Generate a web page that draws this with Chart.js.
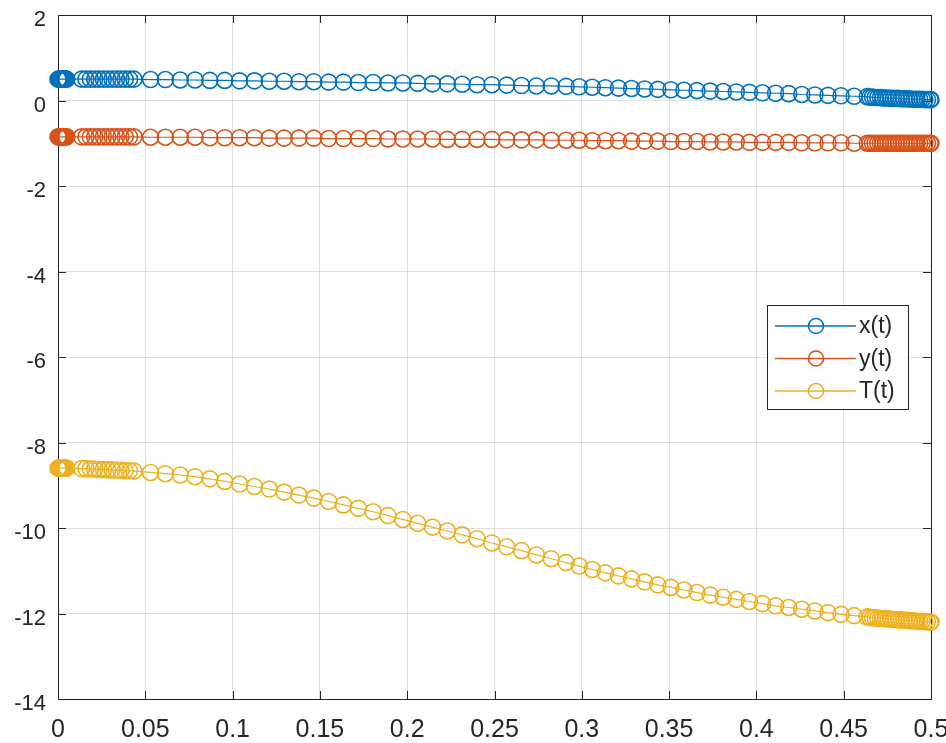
<!DOCTYPE html>
<html><head><meta charset="utf-8">
<script src="https://cdn.jsdelivr.net/npm/chart.js@4/dist/chart.umd.min.js"></script>
<style>html,body{margin:0;padding:0;background:#fff;}#wrap{width:946px;height:743px;}</style>
</head><body><div id="wrap"><canvas id="c" width="946" height="743"></canvas></div>
<script>
// time samples (solver output, dense at start and end)
const t = [
 0,0.0005,0.001,0.0015,0.002,0.0025,0.003,0.0035,0.004,0.0045,0.005,
 0.0135,0.016,0.0185,0.021,0.0235,0.026,0.0285,0.031,0.0335,0.036,0.0385,0.041,0.0435,
 0.053,0.0615,0.070,0.0785,0.087,0.0955,0.104,0.1125,0.121,0.1295,0.138,0.1465,0.155,0.1635,0.172,0.1805,0.189,0.1975,0.206,0.2145,0.223,0.2315,0.240,0.2485,0.257,0.2655,0.274,0.2825,0.291,
 0.2985,0.306,0.3135,0.321,0.3285,0.336,0.3435,0.351,0.3585,0.366,0.3735,0.381,0.3885,0.396,0.4035,0.411,0.4185,0.426,0.4335,0.441,0.4485,0.456,0.4635,
 0.465,0.4665,0.468,0.4695,0.471,0.4725,0.474,0.4755,0.477,0.4785,0.48,0.4815,0.483,0.4845,0.486,0.4875,0.489,0.4905,0.492,0.4935,0.495,0.4965,0.498,0.4995,0.5
];
const xt = [
 0.50,0.50,0.50,0.50,0.50,0.50,0.50,0.50,0.50,0.50,0.50,
 0.50,0.50,0.50,0.50,0.50,0.50,0.50,0.50,0.50,0.50,0.50,0.50,0.50,
 0.49,0.49,0.48,0.48,0.47,0.47,0.46,0.46,0.45,0.45,0.44,0.44,0.43,0.43,0.42,0.42,0.41,0.41,0.40,0.39,0.39,0.38,0.37,0.37,0.36,0.35,0.34,0.34,0.33,
 0.32,0.31,0.30,0.29,0.28,0.27,0.26,0.25,0.24,0.23,0.22,0.21,0.20,0.19,0.18,0.17,0.16,0.14,0.13,0.12,0.11,0.10,0.09,
 0.08,0.08,0.07,0.07,0.07,0.06,0.06,0.06,0.05,0.05,0.05,0.05,0.04,0.04,0.04,0.04,0.03,0.03,0.03,0.03,0.03,0.02,0.02,0.02,0.02
];
const yt = [
 -0.85,-0.85,-0.85,-0.85,-0.85,-0.85,-0.85,-0.85,-0.85,-0.85,-0.85,
 -0.85,-0.85,-0.85,-0.85,-0.85,-0.85,-0.85,-0.85,-0.85,-0.85,-0.85,-0.85,-0.85,
 -0.86,-0.86,-0.86,-0.86,-0.87,-0.87,-0.87,-0.87,-0.88,-0.88,-0.88,-0.88,-0.89,-0.89,-0.89,-0.89,-0.90,-0.90,-0.90,-0.90,-0.91,-0.91,-0.91,-0.91,-0.92,-0.92,-0.92,-0.93,-0.93,
 -0.93,-0.94,-0.94,-0.94,-0.95,-0.95,-0.95,-0.96,-0.96,-0.96,-0.97,-0.97,-0.97,-0.98,-0.98,-0.98,-0.98,-0.99,-0.99,-0.99,-0.99,-1.00,-1.00,
 -1.00,-1.00,-1.00,-1.00,-1.00,-1.00,-1.00,-1.00,-1.00,-1.00,-1.00,-1.00,-1.00,-1.00,-1.00,-1.00,-1.00,-1.00,-1.00,-1.00,-1.00,-1.00,-1.00,-1.00,-1.00
];
const Tt = [
 -8.60,-8.60,-8.60,-8.60,-8.60,-8.60,-8.60,-8.60,-8.60,-8.60,-8.60,
 -8.61,-8.61,-8.62,-8.62,-8.63,-8.63,-8.64,-8.64,-8.65,-8.65,-8.66,-8.66,-8.67,
 -8.70,-8.73,-8.76,-8.80,-8.85,-8.91,-8.97,-9.03,-9.09,-9.16,-9.23,-9.30,-9.38,-9.46,-9.54,-9.62,-9.71,-9.80,-9.89,-9.98,-10.07,-10.16,-10.25,-10.35,-10.44,-10.53,-10.63,-10.72,-10.81,
 -10.89,-10.97,-11.05,-11.12,-11.19,-11.26,-11.33,-11.39,-11.45,-11.51,-11.57,-11.62,-11.67,-11.72,-11.77,-11.82,-11.86,-11.90,-11.94,-11.98,-12.02,-12.05,-12.08,
 -12.09,-12.10,-12.10,-12.11,-12.11,-12.12,-12.12,-12.13,-12.13,-12.14,-12.14,-12.15,-12.15,-12.16,-12.16,-12.17,-12.17,-12.17,-12.18,-12.18,-12.18,-12.19,-12.19,-12.20,-12.20
];
const seriesLabels = ['x(t)','y(t)','T(t)'];
const seriesColors = ['#0072BD','#D95319','#EDB120'];
const xTicks = [0,0.05,0.1,0.15,0.2,0.25,0.3,0.35,0.4,0.45,0.5];
const yTicks = [-14,-12,-10,-8,-6,-4,-2,0,2];

const axisColor = '#262626';
const gridColor = 'rgba(38,38,38,0.15)';
const FONT = '"Liberation Sans", Arial, sans-serif';

function pts(vals){ return t.map((tv,i)=>({x:tv,y:vals[i]})); }
const series = [xt, yt, Tt];

const frame = {
  id:'frame',
  beforeDatasetsDraw(chart){
    const ctx = chart.ctx, a = chart.chartArea;
    const xs = chart.scales.x, ys = chart.scales.y;
    ctx.save();
    ctx.strokeStyle = axisColor; ctx.lineWidth = 1;
    ctx.strokeRect(Math.round(a.left)+0.5, Math.round(a.top)+0.5, Math.round(a.right-a.left), Math.round(a.bottom-a.top));
    const L = 8;
    ctx.beginPath();
    xTicks.forEach(v=>{
      const px = Math.round(xs.getPixelForValue(v))+0.5;
      ctx.moveTo(px, a.bottom); ctx.lineTo(px, a.bottom-L);
      ctx.moveTo(px, a.top); ctx.lineTo(px, a.top+L);
    });
    yTicks.forEach(v=>{
      const py = Math.round(ys.getPixelForValue(v))+0.5;
      ctx.moveTo(a.left, py); ctx.lineTo(a.left+L, py);
      ctx.moveTo(a.right, py); ctx.lineTo(a.right-L, py);
    });
    ctx.stroke();
    ctx.restore();
  },
  afterDraw(chart){
    const ctx = chart.ctx, a = chart.chartArea;
    const bw = 141, bh = 104;
    const bx = Math.round(a.right - 23 - bw), by = Math.round(a.top + 290);
    ctx.save();
    ctx.fillStyle = '#fff';
    ctx.fillRect(bx, by, bw, bh);
    ctx.strokeStyle = axisColor; ctx.lineWidth = 1;
    ctx.strokeRect(bx+0.5, by+0.5, bw, bh);
    ctx.font = '23px ' + FONT;
    ctx.textBaseline = 'middle';
    seriesLabels.forEach((lab,i)=>{
      const yy = by + 21 + i*32.5;
      ctx.strokeStyle = seriesColors[i];
      ctx.lineWidth = 1.3;
      ctx.beginPath(); ctx.moveTo(bx+8, yy); ctx.lineTo(bx+89, yy); ctx.stroke();
      ctx.lineWidth = 1.6;
      ctx.beginPath(); ctx.arc(bx+49, yy, 7.5, 0, Math.PI*2); ctx.stroke();
      ctx.fillStyle = axisColor;
      ctx.fillText(lab, bx+92, yy+1);
    });
    ctx.restore();
  }
};

new Chart(document.getElementById('c'), {
  type:'line',
  data:{ datasets: series.map((vals,i)=>({
    label: seriesLabels[i],
    data: pts(vals),
    borderColor: seriesColors[i],
    backgroundColor: 'rgba(0,0,0,0)',
    borderWidth: 1.2,
    pointRadius: 8,
    pointBorderWidth: 1.6,
    pointBorderColor: seriesColors[i],
    pointBackgroundColor: 'rgba(0,0,0,0)',
    pointStyle: 'circle',
    tension: 0,
    fill: false,
    clip: false,
    order: 2 - i
  }))},
  options:{
    responsive:false, animation:false, devicePixelRatio:1,
    layout:{ padding:{ top:15, right:15, left:0, bottom:0 } },
    plugins:{ legend:{display:false}, tooltip:{enabled:false} },
    scales:{
      x:{
        type:'linear', min:0, max:0.5,
        afterBuildTicks(s){ s.ticks = xTicks.map(v=>({value:v})); },
        afterFit(s){ s.height = 44; s.paddingLeft = 0; s.paddingRight = 0; },
        ticks:{ color:axisColor, font:{family:FONT, size:25}, padding:16, maxRotation:0, autoSkip:false,
          callback:(v)=>String(v) },
        grid:{ color:gridColor, drawTicks:false },
        border:{ display:false }
      },
      y:{
        type:'linear', min:-14, max:2,
        afterBuildTicks(s){ s.ticks = yTicks.map(v=>({value:v})); },
        afterFit(s){ s.width = 58; s.paddingTop = 0; s.paddingBottom = 0; },
        ticks:{ color:axisColor, font:{family:FONT, size:22}, padding:12, labelOffset:5, autoSkip:false,
          callback:(v)=>String(v) },
        grid:{ color:gridColor, drawTicks:false },
        border:{ display:false }
      }
    }
  },
  plugins:[frame]
});
</script>
</body></html>
